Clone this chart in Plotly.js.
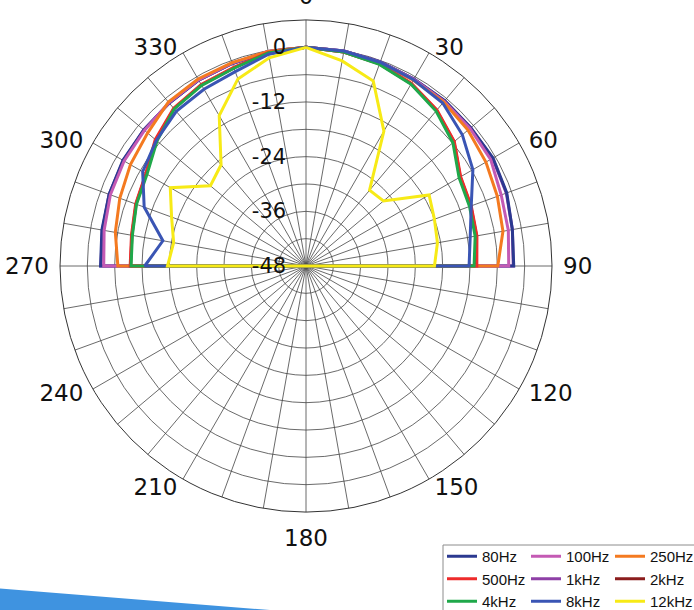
<!DOCTYPE html>
<html>
<head>
<meta charset="utf-8">
<script src="https://cdn.plot.ly/plotly-3.0.1.min.js"></script>
<style>html,body{margin:0;padding:0;background:#fff;}#chart{width:694px;height:610px;}</style>
</head>
<body>
<div id="chart"></div>
<script>
// angles (degrees, 0 = front, clockwise)
const theta = [0,10,20,30,40,50,60,70,80,90,100,110,120,130,140,150,160,170,180,190,200,210,220,230,240,250,260,270,280,290,300,310,320,330,340,350];
const B = -48; // rear half sits at the centre of the scale
// levels in dB, one per angle
const hz80   = [0,-0.1,-0.3,-0.6,-0.6,-0.8,-0.6,-1.1,-2.0,-2.4, B,B,B,B,B,B,B,B,B,B,B,B,B,B,B,B,B, -2.9,-2.5,-2.0,-1.6,-1.5,-1.3,-0.9,-0.7,-0.2];
const hz100  = [0,-0.1,-0.4,-0.7,-0.8,-1.0,-1.2,-2.4,-2.9,-3.5, B,B,B,B,B,B,B,B,B,B,B,B,B,B,B,B,B, -3.6,-3.0,-2.3,-1.9,-1.7,-1.2,-0.8,-0.6,-0.2];
const hz250  = [0,-0.2,-0.5,-0.9,-1.0,-1.6,-2.4,-3.3,-4.1,-5.9, B,B,B,B,B,B,B,B,B,B,B,B,B,B,B,B,B, -6.7,-5.5,-4.5,-3.5,-2.6,-1.0,-0.6,-0.5,-0.2];
const hz500  = [0,-0.3,-0.8,-1.7,-3.3,-5.5,-8.8,-9.4,-9.9,-10.5, B,B,B,B,B,B,B,B,B,B,B,B,B,B,B,B,B, -9.4,-9.1,-8.2,-7.4,-4.8,-2.8,-2.0,-1.6,-0.4];
const khz1   = [0,-0.1,-0.3,-0.6,-0.7,-0.8,-0.7,-1.2,-2.0,-2.5, B,B,B,B,B,B,B,B,B,B,B,B,B,B,B,B,B, -3.0,-2.6,-2.0,-1.7,-1.5,-1.3,-0.9,-0.7,-0.2];
const khz2   = [0,-0.3,-0.8,-1.8,-3.4,-5.6,-8.9,-9.5,-10.0,-10.7, B,B,B,B,B,B,B,B,B,B,B,B,B,B,B,B,B, -9.5,-9.2,-8.3,-7.5,-5.0,-2.9,-2.1,-1.7,-0.4];
const khz4   = [0,-0.3,-0.9,-1.9,-3.6,-5.9,-9.2,-9.8,-10.3,-11.1, B,B,B,B,B,B,B,B,B,B,B,B,B,B,B,B,B, -9.6,-9.3,-8.4,-7.7,-5.3,-3.0,-2.2,-1.8,-0.5];
const khz8   = [0,-0.1,-0.4,-0.8,-1.3,-3.2,-5.7,-9.4,-11.4,-12.2, B,B,B,B,B,B,B,B,B,B,B,B,B,B,B,B,B, -12.6,-16.1,-10.2,-6.6,-5.1,-3.7,-3.2,-2.6,-0.8];
const khz12  = [0,-2.3,-4.8,-13.8,-26.3,-25.8,-16.8,-18.0,-18.7,-19.8, B,B,B,B,B,B,B,B,B,B,B,B,B,B,B,B,B, -17.6,-18.5,-16.6,-13.6,-20.6,-19.0,-9.9,-4.3,-1.6];

// angular tick labels, grouped by how far the label sits from the rim
const angleLabelGroups = [
  {vals:[0,90,180,270], shift:0},
  {vals:[60,300], shift:6},
  {vals:[30,330], shift:12},
  {vals:[120,240], shift:-12},
  {vals:[150,210], shift:-18}
];
const radialTickVals = [-48,-42,-36,-30,-24,-18,-12,-6,0,6];
const radialTickText = ['-48','','-36','','-24','','-12','','0',''];

// draw order (hidden curves first), legend placement kept via legend/legendrank
const series = [
  {name:'1kHz',  r:khz1,  color:'#8E3FA6', legend:'legend2', rank:2},
  {name:'2kHz',  r:khz2,  color:'#8B1D1D', legend:'legend3', rank:2},
  {name:'80Hz',  r:hz80,  color:'#2B3990', legend:'legend',  rank:1},
  {name:'100Hz', r:hz100, color:'#C45AB4', legend:'legend2', rank:1},
  {name:'250Hz', r:hz250, color:'#F47A20', legend:'legend3', rank:1},
  {name:'500Hz', r:hz500, color:'#EE2B2B', legend:'legend',  rank:2},
  {name:'4kHz',  r:khz4,  color:'#1FA84A', legend:'legend',  rank:3},
  {name:'8kHz',  r:khz8,  color:'#3A55B4', legend:'legend2', rank:3},
  {name:'12kHz', r:khz12, color:'#F7EA16', legend:'legend3', rank:3}
];

const axisFont = 'DejaVu Sans, Verdana, sans-serif';
const W = 694, H = 610;
const CX = 306, CY = 266, R = 246;          // chart circle in pixels
const fx = x => x / W;
const fy = y => 1 - y / H;

const data = series.map(s => ({
  type:'scatterpolar', mode:'lines', name:s.name, subplot:'polar',
  theta: theta.concat([theta[0]]), r: s.r.concat([s.r[0]]),
  line:{color:s.color, width:3},
  legend:s.legend, legendrank:s.rank, hoverinfo:'skip'
}));

const legendBase = {
  orientation:'v', yanchor:'top', xanchor:'left', y: fy(540),
  bgcolor:'rgba(0,0,0,0)', borderwidth:0,
  font:{family:'Liberation Sans, Arial, sans-serif', size:15, color:'#111'},
  itemwidth:30, traceorder:'normal'
};

const layout = {
  width:W, height:H,
  margin:{l:0, r:0, t:0, b:0, pad:0, autoexpand:false},
  paper_bgcolor:'#fff',
  font:{family:'Liberation Sans, Arial, sans-serif', color:'#111'},
  showlegend:true,
  polar:{
    bgcolor:'#fff',
    domain:{x:[fx(CX-R), fx(CX+R)], y:[fy(CY+R), fy(CY-R)]},
    angularaxis:{
      rotation:90, direction:'clockwise',
      tickmode:'linear', tick0:0, dtick:10, showticklabels:false,
      ticks:'', showline:true, linecolor:'#333', linewidth:1,
      gridcolor:'#444', gridwidth:0.8
    },
    radialaxis:{
      range:[-48,6], angle:90, side:'counterclockwise',
      tickmode:'array', tickvals:radialTickVals, ticktext:radialTickText,
      ticks:'outside', ticklen:12, tickcolor:'rgba(0,0,0,0)',
      showline:false, gridcolor:'#444', gridwidth:0.8,
      tickfont:{family:axisFont, size:21, color:'#111'}, tickangle:90
    }
  },
  legend:  Object.assign({}, legendBase, {x: fx(442)}),
  legend2: Object.assign({}, legendBase, {x: fx(526)}),
  legend3: Object.assign({}, legendBase, {x: fx(610)}),
  shapes:[
    {type:'rect', xref:'paper', yref:'paper', x0:fx(443), x1:fx(720), y0:fy(545), y1:fy(640),
     line:{color:'#8c8c8c', width:1}, fillcolor:'#fff', layer:'below'},
    {type:'path', xref:'paper', yref:'paper',
     path:'M '+fx(-5)+','+fy(588)+' L '+fx(270)+','+fy(610)+' L '+fx(270)+','+fy(625)+' L '+fx(-5)+','+fy(625)+' Z',
     fillcolor:'#3f93e0', line:{width:0}, layer:'below'}
  ]
};

// one transparent label ring per group, sharing the chart's angular scale
angleLabelGroups.forEach((g, i) => {
  const key = 'polar' + (i + 2);
  const cy = CY + g.shift;
  layout[key] = {
    bgcolor:'rgba(0,0,0,0)',
    domain:{x:[fx(CX-R), fx(CX+R)], y:[fy(cy+R), fy(cy-R)]},
    angularaxis:{
      rotation:90, direction:'clockwise',
      tickmode:'array', tickvals:g.vals, ticktext:g.vals.map(String),
      ticks:'outside', ticklen:6, tickcolor:'rgba(0,0,0,0)',
      showline:false, showgrid:false,
      tickfont:{family:axisFont, size:23, color:'#111'}
    },
    radialaxis:{visible:false, range:[0,1]}
  };
  data.push({type:'scatterpolar', subplot:key, mode:'lines', r:[0], theta:[0],
             showlegend:false, hoverinfo:'skip', line:{color:'rgba(0,0,0,0)'}});
});

Plotly.newPlot('chart', data, layout, {staticPlot:true, displayModeBar:false});
</script>
</body>
</html>
